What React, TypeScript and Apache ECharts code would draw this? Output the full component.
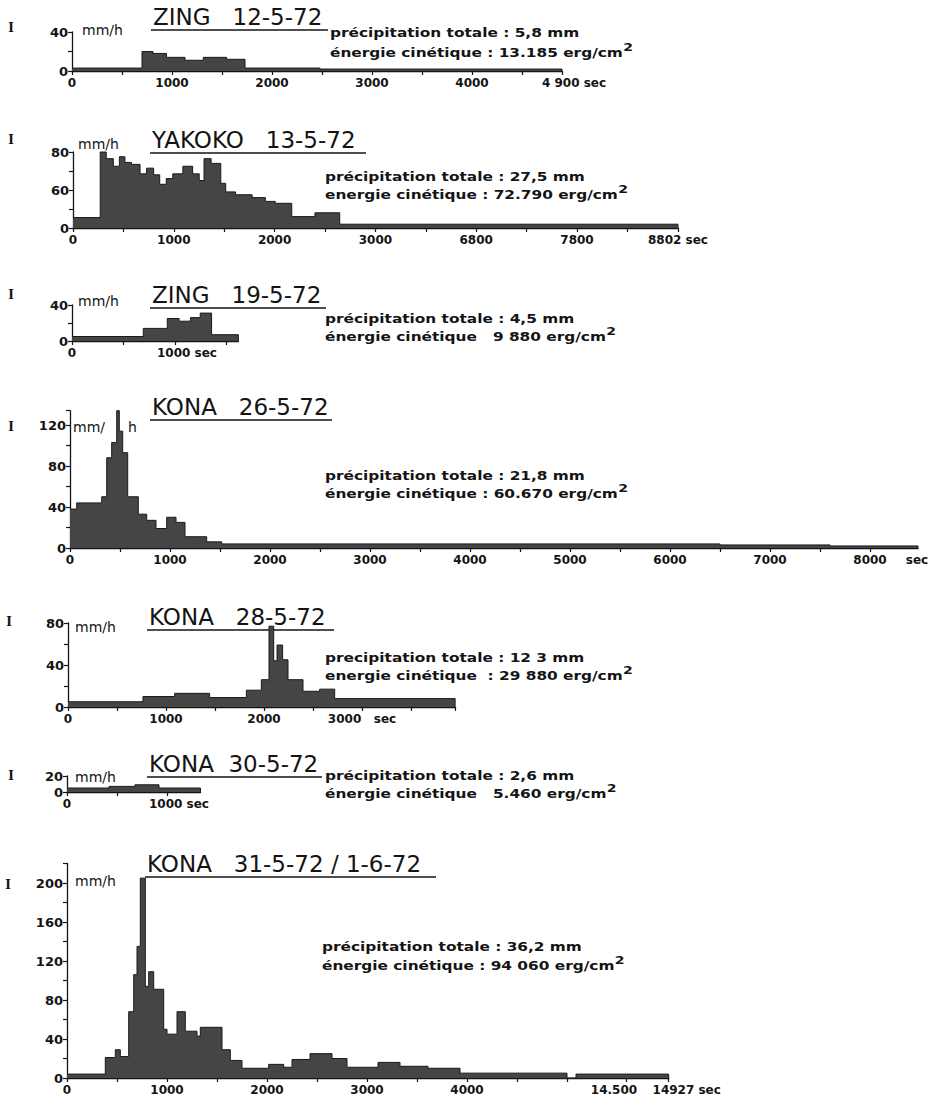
import React, { useEffect, useRef } from "react";
import * as echarts from "echarts";

const FONT = '"DejaVu Sans", "Liberation Sans", sans-serif';
const INK = "#141414";
const FILL = "#454545";

// ---------- 1. ZING 12-5-72 ----------
const zing1205Start = [0, 700, 810, 945, 1130, 1313, 1547, 1730, 2480];
const zing1205Mmh = [3, 20, 18, 14, 11, 14, 12, 3, 2];
const zing1205End = 4900;
const zing1205XTicks = [0, 500, 1000, 1500, 2000, 2500, 3000, 3500, 4000, 4500, 4900];
const zing1205XLabelAt = [0, 1000, 2000, 3000, 4000, 4900];
const zing1205XLabels = ["0", "1000", "2000", "3000", "4000", "{e|4 900 sec}"];
const zing1205YTicks = [0, 20, 40];
const zing1205YLabelAt = [0, 40];
const zing1205YLabels = ["0", "40"];

// ---------- 2. YAKOKO 13-5-72 ----------
const yakokoStart = [0, 270, 330, 400, 460, 515, 580, 665, 730, 800, 860, 925, 990, 1090, 1187, 1252, 1300, 1370, 1466, 1515, 1613, 1777, 1908, 2006, 2170, 2400, 2646];
const yakokoMmh = [11, 80, 73, 65, 75, 69, 67, 57, 63, 56, 46, 52, 57, 65, 57, 50, 73, 68, 47, 38, 35, 32, 28, 26, 12, 16, 4];
const yakokoEnd = 8802;
const yakokoXTicks = [0, 500, 1000, 1500, 2000, 2500, 3000, 3500, 6800, 7300, 7800, 8300, 8802];
const yakokoXLabelAt = [0, 1000, 2000, 3000, 6800, 7800, 8802];
const yakokoXLabels = ["0", "1000", "2000", "3000", "6800", "7800", "8802 sec"];
const yakokoYTicks = [0, 20, 40, 60, 80];
const yakokoYLabelAt = [0, 40, 80];
const yakokoYLabels = ["0", "60", "80"];

// ---------- 3. ZING 19-5-72 ----------
const zing1905Start = [0, 692, 925, 1040, 1150, 1245, 1355];
const zing1905Mmh = [5, 14, 25, 22, 26, 31, 7];
const zing1905End = 1615;
const zing1905XTicks = [0, 500, 1000, 1500];
const zing1905XLabelAt = [0, 1000];
const zing1905XLabels = ["0", "{e|1000 sec}"];
const zing1905YTicks = [0, 20, 40];
const zing1905YLabelAt = [0, 40];
const zing1905YLabels = ["0", "40"];

// ---------- 4. KONA 26-5-72 ----------
const kona2605Start = [0, 67, 317, 367, 417, 467, 493, 527, 577, 683, 767, 860, 967, 1060, 1150, 1367, 1517, 6500, 7600];
const kona2605Mmh = [38, 44, 50, 88, 103, 134, 114, 93, 50, 33, 27, 19, 30, 25, 11, 6, 4, 3, 2];
const kona2605End = 8480;
const kona2605XTicks = [0, 500, 1000, 1500, 2000, 2500, 3000, 3500, 4000, 4500, 5000, 5500, 6000, 6500, 7000, 7500, 8000];
const kona2605XLabelAt = [0, 1000, 2000, 3000, 4000, 5000, 6000, 7000, 8000, 8470];
const kona2605XLabels = ["0", "1000", "2000", "3000", "4000", "5000", "6000", "7000", "8000", "sec"];
const kona2605YTicks = [0, 20, 40, 60, 80, 100, 120, 134];
const kona2605YLabelAt = [0, 40, 80, 120];
const kona2605YLabels = ["0", "40", "80", "120"];

// ---------- 5. KONA 28-5-72 ----------
const kona2805Start = [0, 765, 1088, 1445, 1820, 1973, 2051, 2099, 2133, 2190, 2245, 2398, 2568, 2721];
const kona2805Mmh = [5, 10, 13, 9, 16, 26, 77, 44, 59, 45, 26, 15, 17, 8];
const kona2805End = 3950;
const kona2805XTicks = [0, 500, 1000, 1500, 2000, 2500, 3000, 3500, 3950];
const kona2805XLabelAt = [0, 1000, 2000, 3000];
const kona2805XLabels = ["0", "1000", "2000", "3000   sec"];
const kona2805YTicks = [0, 20, 40, 60, 80];
const kona2805YLabelAt = [0, 40, 80];
const kona2805YLabels = ["0", "40", "80"];

// ---------- 6. KONA 30-5-72 ----------
const kona3005Start = [0, 420, 680, 920];
const kona3005Mmh = [5, 7, 9, 5];
const kona3005End = 1335;
const kona3005XTicks = [0, 500, 1000];
const kona3005XLabelAt = [0, 1000];
const kona3005XLabels = ["0", "{e|1000 sec}"];
const kona3005YTicks = [0, 20];
const kona3005YLabelAt = [0, 20];
const kona3005YLabels = ["0", "20"];

// ---------- 7. KONA 31-5-72 / 1-6-72 ----------
const kona3105Start = [0, 383, 483, 533, 617, 667, 700, 733, 783, 817, 867, 967, 1000, 1100, 1183, 1300, 1333, 1550, 1633, 1750, 2017, 2167, 2250, 2430, 2650, 2800, 3110, 3330, 3610, 3930, 5000, 14000];
const kona3105Mmh = [4, 21, 29, 22, 68, 106, 135, 205, 94, 109, 91, 50, 45, 68, 48, 43, 52, 29, 18, 10, 14, 11, 19, 25, 20, 11, 16, 12, 10, 5, 0, 4];
const kona3105End = 14927;
const kona3105XTicks = [0, 500, 1000, 1500, 2000, 2500, 3000, 3500, 4000, 4500, 5000, 14500, 14927];
const kona3105XLabelAt = [0, 1000, 2000, 3000, 4000, 14500, 14927];
const kona3105XLabels = ["0", "1000", "2000", "3000", "4000", "{l|14.500}", "{r|14927 sec}"];
const kona3105YTicks = [0, 20, 40, 60, 80, 100, 120, 140, 160, 180, 200, 220];
const kona3105YLabelAt = [0, 40, 80, 120, 160, 200];
const kona3105YLabels = ["0", "40", "80", "120", "160", "200"];

// ---------- texts ----------
const titles = ["ZING   12-5-72", "YAKOKO   13-5-72", "ZING   19-5-72", "KONA   26-5-72", "KONA   28-5-72", "KONA  30-5-72", "KONA   31-5-72 / 1-6-72"];
const rainTotals = [
  "précipitation totale : 5,8 mm",
  "précipitation totale : 27,5 mm",
  "précipitation totale : 4,5 mm",
  "précipitation totale : 21,8 mm",
  "precipitation totale : 12 3 mm",
  "précipitation totale : 2,6 mm",
  "précipitation totale : 36,2 mm",
];
const energies = [
  "énergie cinétique : 13.185 erg/cm",
  "energie cinétique : 72.790 erg/cm",
  "énergie cinétique   9 880 erg/cm",
  "énergie cinétique : 60.670 erg/cm",
  "energie cinétique  : 29 880 erg/cm",
  "énergie cinétique   5.460 erg/cm",
  "énergie cinétique : 94 060 erg/cm",
];

type Brk = { from: number; to: number; gap: number };

function toAxis(t: number, breaks: Brk[]): number {
  let removed = 0;
  for (const b of breaks) {
    if (t >= b.to) removed += b.to - b.from - b.gap;
    else if (t > b.from) return b.from - removed + ((t - b.from) / (b.to - b.from)) * b.gap;
  }
  return t - removed;
}

const panels = [
  { start: zing1205Start, mmh: zing1205Mmh, end: zing1205End, breaks: [] as Brk[], xt: zing1205XTicks, xa: zing1205XLabelAt, xl: zing1205XLabels, yt: zing1205YTicks, ya: zing1205YLabelAt, yl: zing1205YLabels,
    x0: 72, sx: 0.1, y0: 71, sy: 0.975, yMax: 40 },
  { start: yakokoStart, mmh: yakokoMmh, end: yakokoEnd, breaks: [{ from: 3500, to: 6300, gap: 0 }], xt: yakokoXTicks, xa: yakokoXLabelAt, xl: yakokoXLabels, yt: yakokoYTicks, ya: yakokoYLabelAt, yl: yakokoYLabels,
    x0: 73, sx: 0.1008, y0: 228, sy: 0.95, yMax: 80 },
  { start: zing1905Start, mmh: zing1905Mmh, end: zing1905End, breaks: [] as Brk[], xt: zing1905XTicks, xa: zing1905XLabelAt, xl: zing1905XLabels, yt: zing1905YTicks, ya: zing1905YLabelAt, yl: zing1905YLabels,
    x0: 72, sx: 0.103, y0: 341, sy: 0.9, yMax: 40 },
  { start: kona2605Start, mmh: kona2605Mmh, end: kona2605End, breaks: [] as Brk[], xt: kona2605XTicks, xa: kona2605XLabelAt, xl: kona2605XLabels, yt: kona2605YTicks, ya: kona2605YLabelAt, yl: kona2605YLabels,
    x0: 70, sx: 0.1, y0: 548, sy: 1.025, yMax: 134 },
  { start: kona2805Start, mmh: kona2805Mmh, end: kona2805End, breaks: [] as Brk[], xt: kona2805XTicks, xa: kona2805XLabelAt, xl: kona2805XLabels, yt: kona2805YTicks, ya: kona2805YLabelAt, yl: kona2805YLabels,
    x0: 68, sx: 0.098, y0: 707, sy: 1.05, yMax: 80 },
  { start: kona3005Start, mmh: kona3005Mmh, end: kona3005End, breaks: [] as Brk[], xt: kona3005XTicks, xa: kona3005XLabelAt, xl: kona3005XLabels, yt: kona3005YTicks, ya: kona3005YLabelAt, yl: kona3005YLabels,
    x0: 67, sx: 0.1, y0: 792, sy: 0.8, yMax: 20 },
  { start: kona3105Start, mmh: kona3105Mmh, end: kona3105End, breaks: [{ from: 5000, to: 14000, gap: 90 }], xt: kona3105XTicks, xa: kona3105XLabelAt, xl: kona3105XLabels, yt: kona3105YTicks, ya: kona3105YLabelAt, yl: kona3105YLabels,
    x0: 67, sx: 0.1, y0: 1078, sy: 0.975, yMax: 220 },
];

// text layout: [x, y, underlineEnd]
const titleLayout = [
  [153, 17, 328], [152, 140, 366], [152, 295, 326], [152, 407, 332], [149, 617, 334], [149, 764, 322], [147, 864, 436],
];
const annLayout = [
  [330, 33, 50], [325, 177, 192], [325, 319, 334], [325, 476, 491], [325, 658, 673], [325, 776, 791], [322, 947, 963],
];
const iLayout = [[11, 28], [11, 140], [11, 295], [11, 427], [9, 622], [11, 776], [8, 885]];
const unitLayout = [[82, 30], [78, 144], [78, 301], [73, 427], [75, 627], [75, 777], [75, 881]];

function labelFormatter(at: number[], texts: string[], breaks: Brk[]) {
  const us = at.map((t) => toAxis(t, breaks));
  return (val: number) => {
    const i = us.findIndex((u) => Math.abs(u - val) < 1e-6);
    return i >= 0 ? texts[i] : "";
  };
}

const labelBase = { fontFamily: FONT, fontWeight: "bold" as const, fontSize: 12, color: INK };

function buildOption() {
  const grid: any[] = [];
  const xAxis: any[] = [];
  const yAxis: any[] = [];
  const series: any[] = [];
  panels.forEach((p, i) => {
    const uMax = toAxis(p.end, p.breaks);
    grid.push({ left: p.x0, top: p.y0 - p.yMax * p.sy, width: uMax * p.sx, height: p.yMax * p.sy, containLabel: false });
    xAxis.push({
      type: "value",
      gridIndex: i,
      min: 0,
      max: uMax,
      axisLine: { show: true, onZero: false, lineStyle: { color: INK, width: 1.3 } },
      axisTick: { show: true, length: 4, customValues: p.xt.map((t) => toAxis(t, p.breaks)), lineStyle: { color: INK, width: 1.2 } },
      axisLabel: {
        show: true,
        customValues: p.xa.map((t) => toAxis(t, p.breaks)),
        formatter: labelFormatter(p.xa, p.xl, p.breaks),
        margin: 6,
        ...labelBase,
        rich: {
          e: { ...labelBase, padding: [0, 0, 0, 24] },
          l: { ...labelBase, padding: [0, 24, 0, 0] },
          r: { ...labelBase, padding: [0, 0, 0, 36] },
        },
      },
      splitLine: { show: false },
    });
    yAxis.push({
      type: "value",
      gridIndex: i,
      min: 0,
      max: p.yMax,
      axisLine: { show: true, onZero: false, lineStyle: { color: INK, width: 1.3 } },
      axisTick: { show: true, length: 4, customValues: p.yt, lineStyle: { color: INK, width: 1.2 } },
      axisLabel: { show: true, customValues: p.ya, formatter: labelFormatter(p.ya, p.yl, []), margin: 4, ...labelBase, fontSize: 13 },
      splitLine: { show: false },
    });
    const pts: number[][] = p.start.map((t, k) => [toAxis(t, p.breaks), p.mmh[k]]);
    pts.push([uMax, 0]);
    series.push({
      type: "line",
      xAxisIndex: i,
      yAxisIndex: i,
      data: pts,
      step: "end",
      symbol: "none",
      clip: false,
      silent: true,
      lineStyle: { color: "#1a1a1a", width: 1 },
      areaStyle: { color: FILL, opacity: 1 },
    });
  });

  const graphic: any[] = [];
  titles.forEach((t, i) => {
    const [x, y, ux] = titleLayout[i];
    graphic.push({ type: "text", x, y, style: { text: t, fill: INK, fontFamily: FONT, fontSize: 23, verticalAlign: "middle", align: "left" } });
    graphic.push({ type: "line", shape: { x1: x - 2, y1: y + 13, x2: ux, y2: y + 13 }, style: { stroke: INK, lineWidth: 1.6 } });
  });
  annLayout.forEach(([x, y1, y2], i) => {
    graphic.push({
      type: "text", x, y: y1, scaleX: 1.28,
      style: { text: rainTotals[i], fill: INK, fontFamily: FONT, fontWeight: "bold", fontSize: 12, verticalAlign: "middle", align: "left" },
    });
    graphic.push({
      type: "text", x, y: y2, scaleX: 1.28,
      style: {
        text: `{b|${energies[i]}}{s|2}`,
        verticalAlign: "middle",
        align: "left",
        rich: {
          b: { fill: INK, fontFamily: FONT, fontWeight: "bold", fontSize: 12, lineHeight: 17, verticalAlign: "bottom" },
          s: { fill: INK, fontFamily: FONT, fontWeight: "bold", fontSize: 11, lineHeight: 17, verticalAlign: "top" },
        },
      },
    });
  });
  iLayout.forEach(([x, y]) => {
    graphic.push({ type: "text", x, y, style: { text: "I", fill: INK, fontFamily: '"DejaVu Serif", serif', fontWeight: "bold", fontSize: 12, verticalAlign: "middle", align: "center" } });
  });
  unitLayout.forEach(([x, y], i) => {
    if (i === 3) {
      graphic.push({ type: "text", x, y, style: { text: "mm/", fill: INK, fontFamily: FONT, fontSize: 14, verticalAlign: "middle" } });
      graphic.push({ type: "text", x: 128, y, style: { text: "h", fill: INK, fontFamily: FONT, fontSize: 14, verticalAlign: "middle" } });
    } else {
      graphic.push({ type: "text", x, y, style: { text: "mm/h", fill: INK, fontFamily: FONT, fontSize: 14, verticalAlign: "middle" } });
    }
  });

  return { animation: false, backgroundColor: "#ffffff", grid, xAxis, yAxis, series, graphic };
}

export default function App() {
  const ref = useRef<HTMLDivElement>(null);
  useEffect(() => {
    if (!ref.current) return;
    const chart = echarts.init(ref.current, undefined, { renderer: "svg" });
    chart.setOption(buildOption() as any);
    return () => chart.dispose();
  }, []);
  return <div ref={ref} style={{ position: "absolute", left: 0, top: 0, width: 940, height: 1115, background: "#fff" }} />;
}
